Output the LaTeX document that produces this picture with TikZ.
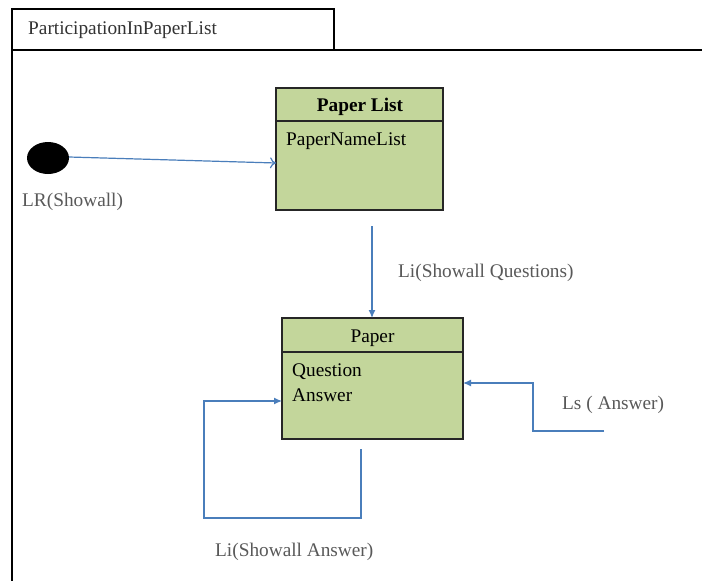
\documentclass[tikz,border=0pt]{standalone}
\usepackage{fontspec}
\setmainfont{Liberation Serif}
\usetikzlibrary{arrows.meta}
\definecolor{boxfill}{HTML}{C3D69B}
\definecolor{flow}{HTML}{4A7EBB}
\definecolor{labelgray}{HTML}{595959}
\tikzset{
  x=1pt, y=-1pt,
  frameline/.style={line width=1.8pt, draw=black},
  classbox/.style={draw=black!85, line width=1.4pt, fill=boxfill},
  flowline/.style={draw=flow, line width=1.2pt},
  openhead/.style={flowline, -{To[length=6pt,width=11pt]}},
  solidhead/.style={flowline, -{Latex[length=8pt,width=7pt]}},
  lbl/.style={text=labelgray, font=\fontsize{19.3}{23}\selectfont, inner sep=0pt, anchor=west},
  txt/.style={text=black, font=\fontsize{19.3}{23}\selectfont, inner sep=0pt, anchor=west}
}
\begin{document}
\begin{tikzpicture}
\useasboundingbox (0,0) rectangle (702,581);
\fill[white] (0,0) rectangle (702,581);

% frame with name tab
\draw[frameline] (12,9) rectangle (334,50);
\draw[frameline] (12,581) -- (12,50) -- (702,50);
\node[txt, text=black!80] (title) at (28,30) {ParticipationInPaperList};

% initial state
\fill[black] (48,158) ellipse [x radius=21, y radius=16];
\coordinate (init) at (69,157);
\node[lbl] (initlbl) at (22,202) {LR(Showall)};

% Paper List class
\draw[classbox] (276,88) rectangle (443,210);
\draw[draw=black!85, line width=1.4pt] (276,121) -- (443,121);
\coordinate (plW) at (276,163);
\coordinate (plS) at (372,226);
\node[txt, font=\fontsize{19.3}{23}\selectfont\bfseries, anchor=center] (plTitle) at (360,107) {Paper List};
\node[txt] (plAttr) at (286,141) {PaperNameList};

% Paper class
\draw[classbox] (282,318) rectangle (463,439);
\draw[draw=black!85, line width=1.4pt] (282,352) -- (463,352);
\coordinate (pN) at (372,318);
\coordinate (pW) at (282,401);
\coordinate (pE) at (463,383);
\coordinate (pS) at (361,449);
\node[txt, anchor=center] (pTitle) at (372.5,338) {Paper};
\node[txt] (pAttr1) at (292,372) {Question};
\node[txt] (pAttr2) at (292,395) {Answer};

% transitions
\draw[openhead] (init) -- (plW);
\draw[solidhead] (plS) -- (pN);
\node[lbl] (liq) at (398,273) {Li(Showall Questions)};

\draw[solidhead] (pS) -- (361,518) -- (204,518) -- (204,401) -- (pW);
\node[lbl] (lia) at (215,552) {Li(Showall Answer)};

\coordinate (lsStart) at (604,431);
\draw[solidhead] (lsStart) -- (533,431) -- (533,383) -- (pE);
\node[lbl] (lsa) at (562,405) {Ls ( Answer)};
\end{tikzpicture}
\end{document}
